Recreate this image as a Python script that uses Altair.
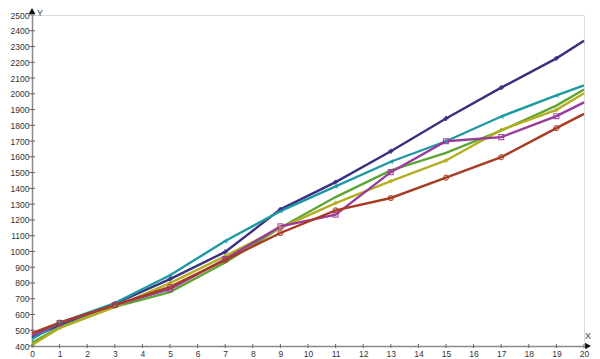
import altair as alt
import pandas as pd

x_vals = [0, 1, 3, 5, 7, 9, 11, 13, 15, 17, 19, 20]
series_names = ["A", "B", "C", "D", "E", "F"]
series_colors = ["#3b2f80", "#1e98a3", "#5da634", "#b4ae22", "#9a3b9c", "#a83c22"]
series_shapes = ["cross", "triangle-left", "circle", "diamond", "square", "circle"]
series_filled = [True, True, True, True, False, False]
indigo = [455, 533, 668, 824, 997, 1267, 1440, 1636, 1843, 2039, 2225, 2337]
teal = [444, 547, 672, 849, 1066, 1256, 1413, 1569, 1699, 1856, 1990, 2054]
green = [420, 520, 648, 742, 930, 1150, 1345, 1514, 1625, 1767, 1925, 2027]
olive = [406, 514, 648, 799, 970, 1150, 1307, 1446, 1577, 1771, 1898, 2003]
purple = [465, 545, 660, 761, 951, 1159, 1233, 1503, 1699, 1725, 1858, 1946]
red = [482, 548, 660, 775, 945, 1117, 1261, 1339, 1468, 1598, 1782, 1873]
y_ticks = list(range(400, 2501, 100))
x_ticks = list(range(0, 21))

all_series = [indigo, teal, green, olive, purple, red]
rows = []
for name, vals in zip(series_names, all_series):
    for xv, yv in zip(x_vals, vals):
        rows.append({"s": name, "x": xv, "y": yv})
df = pd.DataFrame(rows)

W, H = 552, 331
xs = alt.Scale(domain=[0, 20], nice=False)
ys = alt.Scale(domain=[400, 2500], nice=False)
cs = alt.Scale(domain=series_names, range=series_colors)

common = dict(labelFontSize=8.5, labelColor="#333", domainColor="#8a8a8a",
              domainWidth=1.5, ticks=False, grid=False, format="d",
              title=None, labelFont="Liberation Sans", labelOverlap=False, labelFlush=False,
              labelBound=False)
xax = alt.Axis(values=x_ticks, labelPadding=3, **common)
yax = alt.Axis(values=y_ticks, labelPadding=3, **common)

X = lambda f: alt.X(f, scale=xs, axis=xax)
Y = lambda f: alt.Y(f, scale=ys, axis=yax)

base = alt.Chart(df)
lines = base.mark_line(strokeWidth=2.4, clip=False).encode(
    x=X("x:Q"), y=Y("y:Q"),
    color=alt.Color("s:N", scale=cs, legend=None),
    detail="s:N",
)

pts_layers = []
for name, shp, fil, col in zip(series_names, series_shapes, series_filled, series_colors):
    if name == "C":
        continue
    d = df[(df.s == name) & (df.x % 2 == 1)]
    pts_layers.append(
        alt.Chart(d).mark_point(shape=shp, filled=fil, size=24, color=col, strokeWidth=1.2, opacity=0.85).encode(
            x=X("x:Q"), y=Y("y:Q")
        )
    )

# crossing tick marks
ytick_df = pd.DataFrame({"y": y_ticks})
xtick_df = pd.DataFrame({"x": x_ticks})
yin = alt.Chart(ytick_df).mark_rule(color="#666", strokeWidth=1).encode(
    y=Y("y:Q"), x=alt.value(-3), x2=alt.value(3))
xin = alt.Chart(xtick_df).mark_rule(color="#666", strokeWidth=1).encode(
    x=X("x:Q"), y=alt.value(H - 2), y2=alt.value(H + 2))

# arrows
yarrow = alt.Chart(pd.DataFrame({"a": [0]})).mark_point(
    shape="triangle-up", filled=True, color="#111", size=45, opacity=1).encode(
    x=alt.value(0), y=alt.value(-4))
xarrow = alt.Chart(pd.DataFrame({"a": [0]})).mark_point(
    shape="triangle-right", filled=True, color="#111", size=45, opacity=1).encode(
    x=alt.value(W + 4), y=alt.value(H))
yext = alt.Chart(pd.DataFrame({"a": [0]})).mark_rule(color="#8a8a8a", strokeWidth=1.5).encode(
    x=alt.value(0), y=alt.value(0), y2=alt.value(-4))
ylab = alt.Chart(pd.DataFrame({"t": ["Y"]})).mark_text(
    fontSize=9, color="#444", align="left", font="Liberation Sans").encode(
    x=alt.value(5), y=alt.value(-2), text="t:N")
xlab = alt.Chart(pd.DataFrame({"t": ["X"]})).mark_text(
    fontSize=9, color="#444", align="left", font="Liberation Sans").encode(
    x=alt.value(W + 1), y=alt.value(H - 10), text="t:N")

chart = alt.layer(lines, yin, xin, *pts_layers, yext, yarrow, xarrow, ylab, xlab).properties(
    width=W, height=H,
    autosize=alt.AutoSizeParams(type="none"),
    padding={"left": 24, "top": 7, "right": 8, "bottom": 13},
).configure_view(stroke=None).configure(background="white")

chart.save("out.html", embed_options={"renderer": "svg", "actions": False})
